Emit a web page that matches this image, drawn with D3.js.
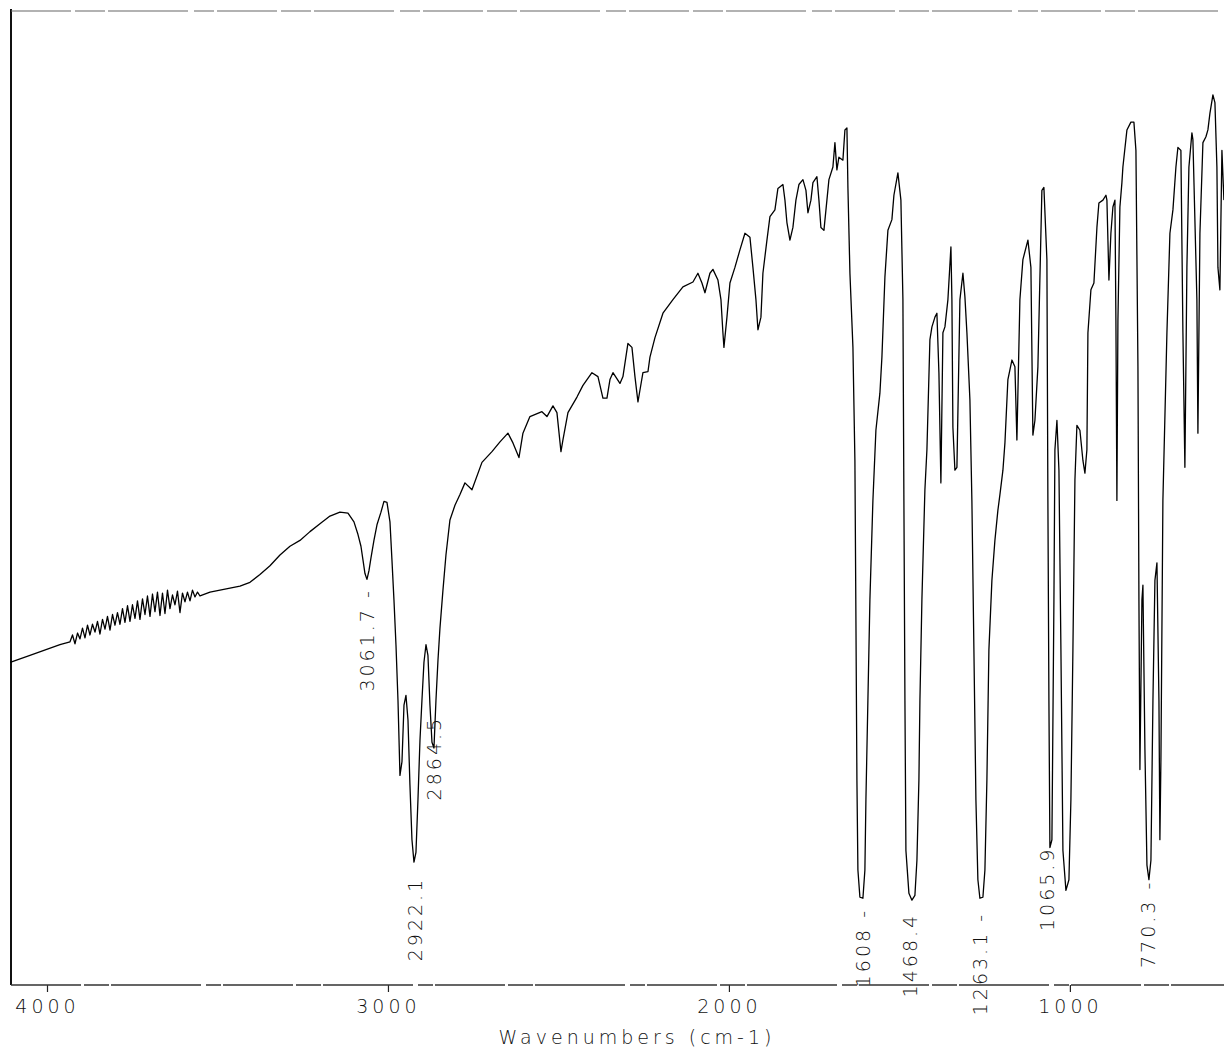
<!DOCTYPE html>
<html>
<head>
<meta charset="utf-8">
<script src="https://cdn.jsdelivr.net/npm/d3@7"></script>
<style>
  html, body { margin: 0; padding: 0; background: #fff; }
  svg text { font-family: "DejaVu Sans", sans-serif; font-weight: 200; fill: #111; }
</style>
</head>
<body>
<div id="chart"></div>
<script>
// IR spectrum, wavenumber (cm-1) vs transmittance (%)
const wavenumbers = [
	4108, 4050, 3962,
	3932.5, 3925.2, 3917.9, 3910.5, 3903.2, 3895.9, 3888.6, 3881.2, 3873.9, 3866.6, 3859.2, 3851.9,
	3844.6, 3837.2, 3829.9, 3822.6, 3815.2, 3807.9, 3800.6, 3793.3, 3785.9, 3778.6, 3771.3, 3763.9,
	3756.6, 3749.3, 3741.9, 3734.6, 3727.3, 3719.9, 3712.6, 3705.3, 3697.9, 3690.6, 3683.3, 3676,
	3668.6, 3661.3, 3654, 3646.6, 3639.3, 3632, 3624.6, 3617.3, 3610, 3602.7, 3595.3, 3588,
	3580.6, 3573.3, 3566, 3558.6, 3551.3,
	3521.9, 3492.6, 3463.3, 3434, 3404.7, 3375.4, 3346, 3316.7,
	3287.4, 3258.1, 3228.7, 3199.4, 3170.1, 3140.8, 3117.3, 3099.7, 3087.9, 3079.2, 3073.3, 3067.4,
	3061.6, 3055.7, 3049.8, 3041.1, 3032.2, 3020.5, 3011.7, 3002.9, 2994.1, 2988.3, 2982.4, 2976.5,
	2970.6, 2964.8, 2958.9, 2953, 2947.2, 2941.3, 2935.5, 2929.6, 2923.7, 2917.9, 2912, 2906.1,
	2900.3, 2894.4, 2888.5, 2882.7, 2876.8, 2870.9, 2865.1, 2859.2, 2853.3, 2847.5, 2838.7, 2829.9,
	2818.2, 2803.5, 2788.8, 2774.2, 2753.6, 2724.3, 2695, 2671.5, 2648.1, 2633.4, 2615.8, 2604.1,
	2583.6, 2548.4, 2533.7, 2516.1, 2504.4, 2492.6, 2486.8, 2472.1, 2445.7, 2428.1, 2401.7, 2384.1,
	2369.5, 2357.7, 2348.9, 2340.1, 2319.6, 2310.8, 2296.2, 2284.4, 2275.6, 2266.8, 2261, 2252.2,
	2237.5, 2231.6, 2216.9, 2193.5, 2164.2, 2134.9, 2105.5, 2090.9, 2079.1, 2070.3, 2055.7, 2046.9,
	2032.2, 2023.4, 2017.6, 2014.6, 2005.8, 1997, 1982.4, 1967.7, 1953, 1938.4, 1929.6, 1920.8,
	1914.9, 1906.1, 1900.3, 1888.5, 1879.7, 1865.1, 1856.3, 1841.6, 1835.7, 1829.9, 1821.1, 1812.3,
	1803.5, 1794.7, 1782.9, 1774.1, 1768.3, 1759.5, 1753.6, 1741.9, 1736, 1730.2, 1721.4, 1712.6,
	1706.7, 1695, 1689.1, 1683.3, 1677.4, 1665.7, 1659.8, 1653.9, 1651, 1645.1, 1636.3, 1630.5,
	1627.5, 1624.6, 1621.7, 1615.8, 1607, 1601.2, 1598.2, 1592.4, 1586.5, 1577.7, 1568.9, 1557.2,
	1551.3, 1542.5, 1533.7, 1522, 1516.1, 1504.4, 1495.6, 1489.7, 1486.8, 1483.8, 1480.9, 1472.1,
	1463.3, 1454.5, 1448.6, 1442.8, 1439.8, 1434, 1425.2, 1419.3, 1410.5, 1404.6, 1395.8, 1390,
	1384.1, 1378.3, 1372.4, 1366.5, 1357.7, 1348.9, 1346, 1343.1, 1337.2, 1331.3, 1322.5, 1313.7,
	1307.9, 1302, 1293.2, 1287.4, 1281.5, 1275.6, 1269.8, 1263.9, 1255.1, 1249.2, 1243.4, 1237.5,
	1228.7, 1219.9, 1211.1, 1205.2, 1196.4, 1190.5, 1181.8, 1170, 1161.2, 1155.4, 1146.6, 1137.8,
	1123.1, 1114.3, 1108.5, 1102.6, 1093.8, 1082.1, 1076.2, 1067.4, 1064.5, 1061.5, 1058.6, 1052.7,
	1046.8, 1043.9, 1038, 1032.1, 1026.3, 1020.4, 1011.6, 1002.8, 997, 991.1, 985.2, 979.4,
	970.6, 961.8, 955.9, 950.1, 947.1, 938.3, 929.5, 920.7, 914.9, 903.1, 894.3, 891.4,
	885.5, 879.7, 873.8, 867.9, 865, 862.1, 859.1, 853.3, 847.4, 844.5, 832.7, 821,
	812.2, 806.3, 800.4, 797.5, 794.6, 788.7, 785.8, 779.9, 774, 768.2, 762.3, 756.4,
	750.6, 744.7, 738.8, 736, 733, 727.2, 715.4, 706.6, 697.8, 689, 683.2, 674.4,
	668.5, 662.7, 656.8, 650.9, 642.1, 639.2, 627.5, 624.5, 618.6, 609.8, 601, 595.2,
	589.3, 580.5, 574.6, 568.8, 565.8, 560, 554.1, 548.2
];
const transmittance = [
	33.1, 33.8, 34.9,
	35.2, 35.9, 35.0, 36.1, 35.5, 36.6, 35.6, 36.9, 35.9, 37.0, 36.2, 37.3,
	36.0, 37.5, 36.5, 37.8, 36.4, 38.0, 36.9, 38.2, 37.0, 38.6, 37.2, 38.9,
	37.3, 39.0, 37.6, 39.4, 37.5, 39.6, 38.0, 39.9, 37.8, 40.1, 38.3, 40.3,
	37.9, 40.2, 38.1, 40.5, 38.6, 40.0, 39.0, 40.4, 38.2, 40.2, 39.3, 40.3,
	39.4, 40.5, 39.8, 40.3, 39.9,
	40.3, 40.5, 40.7, 40.9, 41.3, 42.1, 43.0, 44.1,
	45.0, 45.6, 46.5, 47.3, 48.1, 48.5, 48.4, 47.5, 46.2, 45.0, 43.6, 42.2,
	41.6, 42.5, 43.8, 45.6, 47.2, 48.5, 49.6, 49.5, 47.5, 43.6, 39.5, 34.9,
	29.2, 21.5, 22.9, 28.7, 29.7, 27.2, 20.5, 14.9, 12.6, 13.6, 19.0, 25.1,
	29.2, 33.1, 34.9, 33.8, 28.7, 24.9, 24.3, 29.2, 33.3, 36.6, 40.5, 44.1,
	47.7, 49.2, 50.3, 51.5, 50.8, 53.6, 54.7, 55.7, 56.6, 55.6, 54.1, 56.6,
	58.3, 58.8, 58.3, 59.4, 58.7, 54.7, 55.9, 58.7, 60.3, 61.5, 62.8, 62.4,
	60.2, 60.2, 62.1, 62.8, 61.7, 62.4, 65.8, 65.4, 62.4, 59.8, 61.0, 62.8,
	62.9, 64.4, 66.4, 68.9, 70.3, 71.6, 72.1, 73.0, 72.0, 71.0, 73.0, 73.4,
	72.3, 70.3, 66.9, 65.4, 68.5, 72.0, 73.6, 75.4, 77.1, 76.7, 73.6, 70.3,
	67.2, 68.5, 73.0, 76.4, 78.8, 79.5, 81.7, 82.1, 80.5, 78.2, 76.4, 77.7,
	80.5, 82.1, 82.6, 81.5, 79.2, 80.5, 82.3, 82.9, 80.5, 77.7, 77.4, 80.5,
	82.6, 83.9, 86.4, 83.6, 84.9, 84.6, 87.7, 87.9, 81.8, 73.0, 65.4, 53.8,
	37.4, 21.0, 11.8, 9.0, 8.9, 11.8, 19.0, 29.2, 39.5, 49.7, 56.9, 60.7,
	64.4, 72.6, 77.4, 78.5, 81.0, 83.3, 80.5, 70.3, 49.7, 29.2, 13.8, 9.4,
	8.7, 9.2, 12.8, 21.0, 29.2, 39.5, 50.8, 54.9, 66.2, 67.5, 68.5, 68.9,
	62.8, 51.5, 66.9, 67.5, 70.3, 75.7, 70.3, 57.2, 52.8, 53.1, 70.3, 73.0,
	70.6, 66.9, 60.0, 49.7, 34.4, 19.0, 10.8, 8.9, 9.0, 11.8, 21.0, 34.4,
	41.5, 45.6, 48.7, 50.3, 52.8, 55.6, 62.1, 64.1, 63.4, 55.9, 70.3, 74.4,
	76.4, 73.6, 56.4, 57.9, 63.4, 81.5, 81.8, 74.4, 49.7, 29.2, 14.1, 14.9,
	39.5, 54.9, 57.9, 52.8, 34.4, 13.8, 9.7, 10.8, 19.0, 34.4, 51.8, 57.4,
	56.9, 53.8, 52.5, 54.9, 66.9, 71.3, 72.0, 77.7, 80.2, 80.5, 81.0, 80.5,
	72.3, 77.1, 79.8, 80.5, 68.2, 49.7, 68.2, 79.8, 82.3, 83.9, 87.7, 88.5,
	88.5, 85.6, 63.4, 39.5, 22.1, 39.5, 41.0, 24.1, 12.3, 10.8, 12.8, 29.2,
	41.5, 43.3, 29.2, 14.9, 23.1, 49.7, 66.9, 77.1, 79.5, 83.9, 85.9, 85.6,
	66.9, 53.1, 73.6, 83.9, 87.4, 86.7, 70.3, 56.6, 77.1, 86.4, 87.0, 87.7,
	89.4, 91.3, 90.5, 83.9, 73.6, 71.3, 85.6, 80.5
];

// peak annotations
const peakLabels = ["3061.7 -", "2922.1", "2864.5", "1608 -", "1468.4", "1263.1 -", "1065.9", "770.3 -"];
const peakWn = [3061.7, 2922.1, 2864.5, 1608, 1468.4, 1263.1, 1065.9, 770.3];
const peakLabelT = [40.7, 11.1, 27.6, 7.9, 7.4, 7.5, 14.2, 10.8];

const xTicks = [4000, 3000, 2000, 1000];
const xTitle = "Wavenumbers (cm-1)";

const width = 1224;
const height = 1059;
const frameLeft = 11, frameRight = 1224, frameTop = 11, frameBottom = 985;

const svg = d3.select("#chart").append("svg")
	.attr("width", width)
	.attr("height", height);

const x = d3.scaleLinear().domain([4108.5, 548]).range([10, 1224]);
const y = d3.scaleLinear().domain([0, 100]).range([frameBottom, 10]);

const data = wavenumbers.map((w, i) => ({ w: w, t: transmittance[i] }));

// frame: solid left edge, broken top and bottom edges
svg.append("line")
	.attr("x1", frameLeft).attr("x2", frameLeft)
	.attr("y1", frameTop - 2).attr("y2", frameBottom)
	.attr("stroke", "#111").attr("stroke-width", 2);

svg.append("line")
	.attr("x1", frameLeft).attr("x2", frameRight)
	.attr("y1", frameTop).attr("y2", frameTop)
	.attr("stroke", "#666").attr("stroke-width", 1.1)
	.attr("stroke-dasharray", "60,4,30,3,80,6,20,3");

// x axis
const xAxis = d3.axisBottom(x)
	.tickValues(xTicks)
	.tickSize(7)
	.tickPadding(8)
	.tickFormat(d3.format("d"));

const gx = svg.append("g")
	.attr("transform", `translate(0,${frameBottom})`)
	.call(xAxis);

gx.select(".domain").remove();
gx.selectAll(".tick line").attr("stroke", "#222").attr("stroke-width", 1.2);
gx.selectAll(".tick text")
	.style("font-size", "19px")
	.style("letter-spacing", "4px")
	.attr("fill", "#111");

svg.append("line")
	.attr("x1", frameLeft).attr("x2", frameRight)
	.attr("y1", frameBottom).attr("y2", frameBottom)
	.attr("stroke", "#333").attr("stroke-width", 1.3)
	.attr("stroke-dasharray", "70,3,25,2,90,5,15,2");

svg.append("text")
	.attr("x", 637)
	.attr("y", 1037)
	.attr("text-anchor", "middle")
	.attr("dominant-baseline", "central")
	.style("font-size", "19px")
	.style("letter-spacing", "4px")
	.text(xTitle);

// spectrum trace
const line = d3.line()
	.x((d) => x(d.w))
	.y((d) => y(d.t));

svg.append("path")
	.datum(data)
	.attr("d", line)
	.attr("fill", "none")
	.attr("stroke", "#000")
	.attr("stroke-width", 1.3)
	.attr("stroke-linejoin", "round");

// rotated peak labels, ending just under each minimum
svg.selectAll("text.peak")
	.data(peakLabels)
	.enter()
	.append("text")
	.attr("class", "peak")
	.attr("transform", (d, i) => `translate(${x(peakWn[i])},${y(peakLabelT[i])}) rotate(-90)`)
	.attr("text-anchor", "end")
	.attr("dominant-baseline", "central")
	.style("font-size", "19px")
	.style("letter-spacing", "3px")
	.text((d) => d);
</script>
</body>
</html>
